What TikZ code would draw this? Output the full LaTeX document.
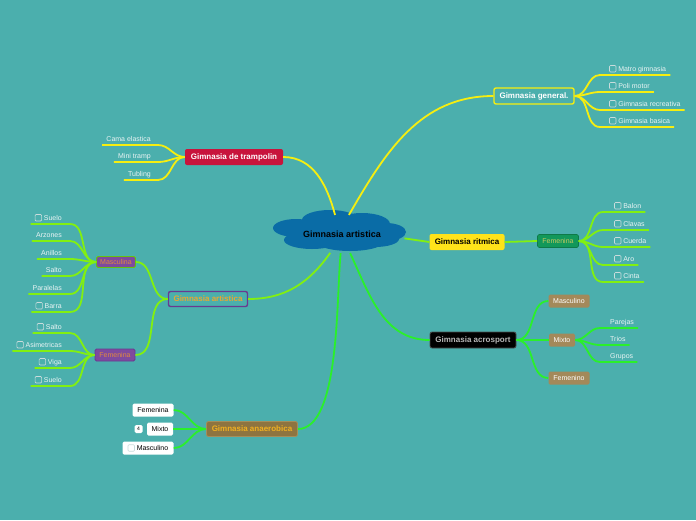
\documentclass[tikz,border=0pt]{standalone}
\usepackage{fontspec}
\setmainfont{Liberation Sans}
\usepackage{tikz}
\usetikzlibrary{positioning, shapes.geometric}
\definecolor{sea}{HTML}{4BAFAD}
\definecolor{cloudblue}{HTML}{0A6CA6}
\definecolor{yelline}{HTML}{F6EE10}
\definecolor{limeline}{HTML}{82F010}
\definecolor{grnline}{HTML}{2AF02A}
\definecolor{leaftxt}{HTML}{EAF4F4}
\definecolor{chkgray}{HTML}{C9DCDC}
\definecolor{trampred}{HTML}{C8143C}
\definecolor{artpurple}{HTML}{6A3A90}
\definecolor{artorange}{HTML}{E8A830}
\definecolor{subpurple}{HTML}{7E4A9E}
\definecolor{suborange}{HTML}{E08A40}
\definecolor{rityellow}{HTML}{FFE31A}
\definecolor{ritgreen}{HTML}{12985A}
\definecolor{rittext}{HTML}{C8C860}
\definecolor{acrotan}{HTML}{A3895A}
\definecolor{anaebrown}{HTML}{8E7440}
\definecolor{anaeborder}{HTML}{A68E5A}
\definecolor{anaetext}{HTML}{F0B020}
\newcommand{\chk}{\tikz[baseline=0pt]\draw[chkgray, line width=0.6pt, rounded corners=1pt] (0pt,-0.7pt) rectangle (6.5pt,5.8pt);}
\tikzset{
  topic/.style={rounded corners=2pt, font=\fontsize{8}{9}\selectfont\bfseries,
                inner sep=0pt, minimum height=16pt, text height=6pt, text depth=1.2pt},
  sub/.style={rounded corners=1.5pt, font=\fontsize{7}{8}\selectfont,
              inner sep=0pt, minimum height=13pt, text height=6pt, text depth=1pt},
  rleaf/.style={anchor=south west, font=\fontsize{7}{8}\selectfont, text=leaftxt,
                inner xsep=4pt, inner ysep=2pt, text height=5pt, text depth=1.5pt},
  lleaf/.style={rleaf, anchor=south east},
  yel/.style={draw=yelline, line width=1.8pt},
  lim/.style={draw=limeline, line width=1.8pt},
  grn/.style={draw=grnline, line width=1.8pt},
}
\begin{document}
\begin{tikzpicture}[x=1pt, y=-1pt]
  \fill[sea] (0,0) rectangle (696,520);

  % centre cloud, puff by puff
  \foreach \cx/\cy/\rx/\ry in {296/228/23/9, 330/220/28/10, 362/224/28/11, 386/232/20/9,
                               312/240/28/9, 350/240/36/11, 375/239/24/8, 340/231/50/13}
    \fill[cloudblue] (\cx,\cy) ellipse [x radius=\rx pt, y radius=\ry pt];
  \node[ellipse, minimum width=128pt, minimum height=38pt, inner sep=0pt,
        font=\fontsize{9}{10}\selectfont\bfseries] (root) at (342,234) {Gimnasia artistica};

  % main topics
  \node[topic, fill=sea, draw=yelline, line width=1.4pt, text=white, minimum width=80pt] (general) at (534,96) {Gimnasia general.};
  \node[topic, fill=trampred, text=white, minimum width=98pt] (tramp) at (234,157) {Gimnasia de trampolin};
  \node[topic, fill=sea, draw=artpurple, line width=1.4pt, text=artorange, minimum width=79pt, minimum height=15pt] (artis) at (208,299) {Gimnasia artistica};
  \node[topic, fill=rityellow, text=black, minimum width=75pt] (ritm) at (467,242) {Gimnasia ritmica};
  \node[topic, fill=black, draw=black!70, line width=0.8pt, text=black!28, minimum width=86pt] (acro) at (473,340) {Gimnasia acrosport};
  \node[topic, fill=anaebrown, draw=anaeborder, line width=0.8pt, text=anaetext, minimum width=91pt, minimum height=15pt] (anae) at (252,429) {Gimnasia anaerobica};

  % sub topics
  \node[sub, fill=subpurple, draw=limeline!80!black, line width=0.8pt, text=suborange, minimum width=39pt, minimum height=11pt] (amasc) at (116,262) {Masculina};
  \node[sub, fill=subpurple, draw=artpurple, line width=0.8pt, text=suborange, minimum width=40pt, minimum height=12pt] (afem) at (115,355) {Femenina};
  \node[sub, fill=ritgreen, draw=ritgreen!80!black, line width=0.6pt, text=rittext, minimum width=41pt] (rfem) at (558,241) {Femenina};
  \node[sub, fill=acrotan, text=white, minimum width=41pt] (cmasc) at (569,301) {Masculino};
  \node[sub, fill=acrotan, text=white, minimum width=26pt] (cmix) at (562,340) {Mixto};
  \node[sub, fill=acrotan, text=white, minimum width=41pt] (cfem) at (569,378) {Femenino};
  \node[sub, fill=white, text=black, minimum width=41pt] (nfem) at (153,410) {Femenina};
  \node[sub, fill=white, text=black, minimum width=26pt] (nmix) at (160,429) {Mixto};
  \node[sub, fill=white, text=black, minimum width=51pt] (nmasc) at (148,448) {\chk\ Masculino};
  \node[sub, fill=white, text=black, minimum width=8pt, minimum height=8pt, rounded corners=1.5pt,
        font=\fontsize{5}{6}\selectfont, text height=3.5pt, text depth=0pt, left=4pt of nmix] (badge) {4};

  % leaves
  \node[rleaf] (matro) at (600,75) {\hspace{5pt}\chk\ Matro gimnasia};
  \node[rleaf] (poli) at (600,92) {\hspace{5pt}\chk\ Poli motor};
  \node[rleaf] (recre) at (600,110) {\hspace{5pt}\chk\ Gimnasia recreativa};
  \node[rleaf] (basica) at (600,127) {\hspace{5pt}\chk\ Gimnasia basica};

  \node[lleaf] (cama) at (158,145) {Cama elastica\kern3pt};
  \node[lleaf] (mini) at (158,162) {Mini tramp\kern3pt};
  \node[lleaf] (tubl) at (158,180) {Tubling\kern3pt};

  \node[lleaf] (msuelo) at (70,224) {\chk\ Suelo\kern4pt};
  \node[lleaf] (arzon) at (70,241) {Arzones\kern4pt};
  \node[lleaf] (anill) at (70,259) {Anillos\kern4pt};
  \node[lleaf] (msalto) at (70,276) {Salto\kern4pt};
  \node[lleaf] (paral) at (70,294) {Paralelas\kern4pt};
  \node[lleaf] (barra) at (70,312) {\chk\ Barra\kern4pt};

  \node[lleaf] (fsalto) at (70,333) {\chk\ Salto\kern4pt};
  \node[lleaf] (asim) at (70,351) {\chk\ Asimetricas\kern4pt};
  \node[lleaf] (viga) at (70,368) {\chk\ Viga\kern4pt};
  \node[lleaf] (fsuelo) at (70,386) {\chk\ Suelo\kern4pt};

  \node[rleaf] (balon) at (603,212) {\hspace{7pt}\chk\ Balon};
  \node[rleaf] (clavas) at (603,230) {\hspace{7pt}\chk\ Clavas};
  \node[rleaf] (cuerda) at (603,247) {\hspace{7pt}\chk\ Cuerda};
  \node[rleaf] (aro) at (603,265) {\hspace{7pt}\chk\ Aro};
  \node[rleaf] (cinta) at (603,282) {\hspace{7pt}\chk\ Cinta};

  \node[rleaf] (parej) at (600,328) {\hspace{6pt}Parejas};
  \node[rleaf] (trios) at (600,345) {\hspace{6pt}Trios};
  \node[rleaf] (grupos) at (600,362) {\hspace{6pt}Grupos};

  % centre to topics
  \draw[yel] (root.110) to[out=105, in=0] (tramp.east);
  \draw[yel] (root.70) to[out=60, in=180] (general.west);
  \draw[lim] (root.238) to[out=235, in=0] (artis.east);
  \draw[grn] (root.266) to[out=264, in=0, looseness=0.6] (anae.east);
  \draw[grn] (root.293) to[out=295, in=180] (acro.west);
  \draw[lim] (root.356) -- (ritm.west);

  % general
  \foreach \leaf in {matro, poli, recre, basica}
    \draw[yel] (general.east) to[out=0, in=180] (\leaf.south west) -- (\leaf.south east);
  % trampolin
  \foreach \leaf in {cama, mini, tubl}
    \draw[yel] (tramp.west) to[out=180, in=0] (\leaf.south east) -- (\leaf.south west);
  % artistica
  \draw[lim] (artis.west) to[out=180, in=0] (amasc.east);
  \draw[lim] (artis.west) to[out=180, in=0] (afem.east);
  \foreach \leaf in {msuelo, arzon, anill, msalto, paral, barra}
    \draw[lim] (amasc.west) to[out=180, in=0] (\leaf.south east) -- (\leaf.south west);
  \foreach \leaf in {fsalto, asim, viga, fsuelo}
    \draw[lim] (afem.west) to[out=180, in=0] (\leaf.south east) -- (\leaf.south west);
  % ritmica
  \draw[lim] (ritm.east) -- (rfem.west);
  \foreach \leaf in {balon, clavas, cuerda, aro, cinta}
    \draw[lim] (rfem.east) to[out=0, in=180] (\leaf.south west) -- (\leaf.south east);
  % acrosport
  \foreach \kid in {cmasc, cmix, cfem}
    \draw[grn] (acro.east) to[out=0, in=180] (\kid.west);
  \foreach \leaf in {parej, trios, grupos}
    \draw[grn] (cmix.east) to[out=0, in=180] (\leaf.south west) -- (\leaf.south east);
  % anaerobica
  \foreach \kid in {nfem, nmix, nmasc}
    \draw[grn] (anae.west) to[out=180, in=0] (\kid.east);
\end{tikzpicture}
\end{document}
